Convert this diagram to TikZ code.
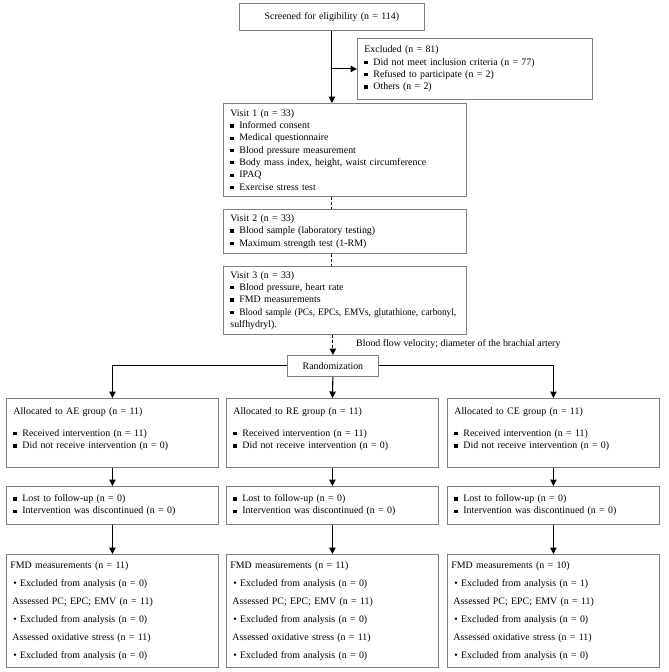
\documentclass[tikz,border=0pt]{standalone}
\usepackage{fontspec}
\setmainfont{Liberation Serif}
\usetikzlibrary{arrows.meta}
\definecolor{boxgray}{gray}{0.5}
\newcommand{\sqb}{\makebox[9pt][l]{\rule[0.25ex]{3.2pt}{3.2pt}}}
\newcommand{\rdb}{\hspace{3pt}\textbullet\ }
\newcommand{\fs}{\fontsize{9.9}{12.3}\selectfont}
\tikzset{
	box/.style={draw=boxgray, line width=0.8pt, anchor=north west, align=left, inner xsep=7pt, inner ysep=0pt, font=\fs},
	arr/.style={-{Triangle[length=6.5pt,width=6.5pt]}, line width=1.1pt},
	dsh/.style={line width=1.1pt, dash pattern=on 3pt off 2pt},
}

\begin{document}
\begin{tikzpicture}[x=1pt,y=-1pt]
		%%%%% START %%%%%
		\useasboundingbox (0,0) rectangle (669,672);
		
		\node[box, align=center, text width=171pt, minimum height=27pt] (screen) at (239,3) {Screened for eligibility (n = 114)};
		\node[box, text width=221pt, minimum height=61pt] (excl) at (357,38) {Excluded (n = 81)\\
			\sqb Did not meet inclusion criteria (n = 77)\\
			\sqb Refused to participate (n = 2)\\
			\sqb Others (n = 2)};
		
		\node[box, text width=229pt, minimum height=93pt] (visit1) at (223,103) {Visit 1 (n = 33)\\
			\sqb Informed consent\\
			\sqb Medical questionnaire\\
			\sqb Blood pressure measurement\\
			\sqb Body mass index, height, waist circumference\\
			\sqb IPAQ\\
			\sqb Exercise stress test};
		\node[box, text width=229pt, minimum height=44pt] (visit2) at (223,209) {Visit 2 (n = 33)\\
			\sqb Blood sample (laboratory testing)\\
			\sqb Maximum strength test (1-RM)};
		\node[box, text width=229pt, minimum height=68pt] (visit3) at (223,266) {Visit 3 (n = 33)\\
			\sqb Blood pressure, heart rate\\
			\sqb FMD measurements\\
			\sqb \scalebox{0.94}[1]{Blood sample (PCs, EPCs, EMVs, glutathione, carbonyl,}\\
			sulfhydryl).};
		
		\node[font=\fs, anchor=west, inner sep=0pt] (flow) at (356,344) {Blood flow velocity; diameter of the brachial artery};
		\node[box, align=center, text width=77pt, minimum height=21pt] (rand) at (287,355) {Randomization};
		
		% allocation
		\node[box, text width=198pt, minimum height=69pt] (allocAE) at (6,398) {Allocated to AE group (n = 11)\\[10pt]
			\sqb Received intervention (n = 11)\\
			\sqb Did not receive intervention (n = 0)\\[-2.3pt]\mbox{}};
		\node[box, text width=198pt, minimum height=69pt] (allocRE) at (226,398) {Allocated to RE group (n = 11)\\[10pt]
			\sqb Received intervention (n = 11)\\
			\sqb Did not receive intervention (n = 0)\\[-2.3pt]\mbox{}};
		\node[box, text width=198pt, minimum height=69pt] (allocCE) at (447,398) {Allocated to CE group (n = 11)\\[10pt]
			\sqb Received intervention (n = 11)\\
			\sqb Did not receive intervention (n = 0)\\[-2.3pt]\mbox{}};
		
		% follow-up
		\node[box, text width=198pt, minimum height=38pt] (lostAE) at (6,486) {\sqb Lost to follow-up (n = 0)\\
			\sqb Intervention was discontinued (n = 0)};
		\node[box, text width=198pt, minimum height=38pt] (lostRE) at (226,486) {\sqb Lost to follow-up (n = 0)\\
			\sqb Intervention was discontinued (n = 0)};
		\node[box, text width=198pt, minimum height=38pt] (lostCE) at (447,486) {\sqb Lost to follow-up (n = 0)\\
			\sqb Intervention was discontinued (n = 0)};
		
		% analysis
		\node[box, inner xsep=4pt, text width=204pt, minimum height=113pt] (fmdAE) at (6,554) {FMD measurements (n = 11)\\[5.7pt]
			\rdb Excluded from analysis (n = 0)\\[5.7pt]
			\hspace{2pt}Assessed PC; EPC; EMV (n = 11)\\[5.7pt]
			\rdb Excluded from analysis (n = 0)\\[5.7pt]
			\hspace{2pt}Assessed oxidative stress (n = 11)\\[5.7pt]
			\rdb Excluded from analysis (n = 0)};
		\node[box, inner xsep=4pt, text width=204pt, minimum height=113pt] (fmdRE) at (226,554) {FMD measurements (n = 11)\\[5.7pt]
			\rdb Excluded from analysis (n = 0)\\[5.7pt]
			\hspace{2pt}Assessed PC; EPC; EMV (n = 11)\\[5.7pt]
			\rdb Excluded from analysis (n = 0)\\[5.7pt]
			\hspace{2pt}Assessed oxidative stress (n = 11)\\[5.7pt]
			\rdb Excluded from analysis (n = 0)};
		\node[box, inner xsep=4pt, text width=204pt, minimum height=113pt] (fmdCE) at (447,554) {FMD measurements (n = 10)\\[5.7pt]
			\rdb Excluded from analysis (n = 1)\\[5.7pt]
			\hspace{2pt}Assessed PC; EPC; EMV (n = 11)\\[5.7pt]
			\rdb Excluded from analysis (n = 0)\\[5.7pt]
			\hspace{2pt}Assessed oxidative stress (n = 11)\\[5.7pt]
			\rdb Excluded from analysis (n = 0)};
		
		% connectors
		\draw[arr] (screen.south) -- (screen.south |- visit1.north);
		\draw[arr] (screen.south |- excl.west) -- (excl.west);
		\draw[dsh] (screen.south |- visit1.south) -- (screen.south |- visit2.north);
		\draw[dsh] (screen.south |- visit2.south) -- (screen.south |- visit3.north);
		\draw[dsh, arr] (rand.north |- visit3.south) -- (rand.north);
		
		\draw[arr] (rand.west) -| (allocAE.north);
		\draw[arr] (rand.south) -- (allocRE.north);
		\draw[arr] (rand.east) -| (allocCE.north);
		
		\draw[arr] (allocAE.south) -- (lostAE.north);
		\draw[arr] (allocRE.south) -- (lostRE.north);
		\draw[arr] (allocCE.south) -- (lostCE.north);
		\draw[arr] (lostAE.south) -- (fmdAE.north);
		\draw[arr] (lostRE.south) -- (fmdRE.north);
		\draw[arr] (lostCE.south) -- (fmdCE.north);
		
		%%%%% END %%%%%
\end{tikzpicture}
\end{document}
